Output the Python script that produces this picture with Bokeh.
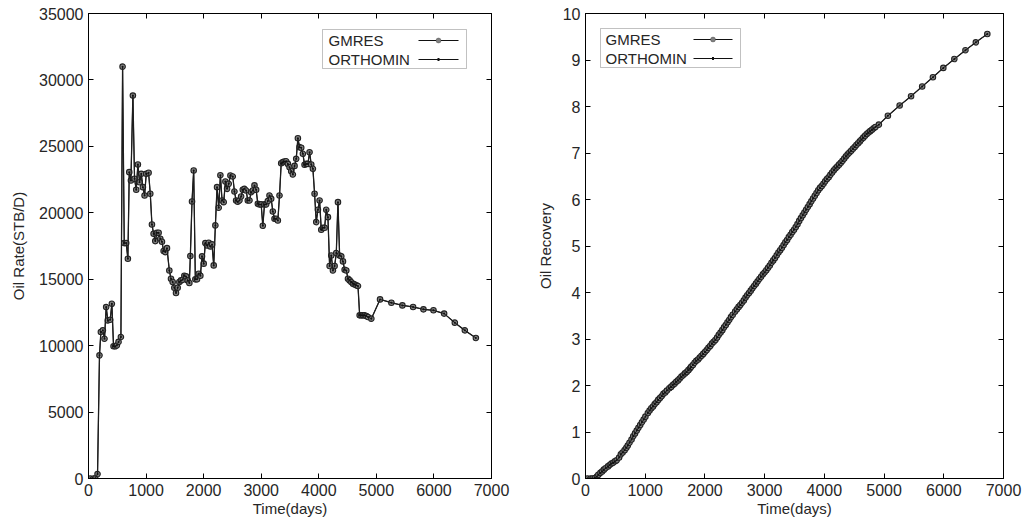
from bokeh.plotting import figure
from bokeh.layouts import row
from bokeh.models import (Range1d, LinearAxis, FixedTicker, BoxAnnotation, Label,
                          CustomJSTickFormatter)
from bokeh.embed import file_html
from bokeh.resources import INLINE

# ---------------- data ----------------
time_days = [
    30, 87, 116, 157, 191, 215, 250, 278, 307, 336,
    377, 406, 435, 464, 493, 522, 563, 592, 621, 655,
    684, 708, 737, 771, 800, 829, 858, 887, 916, 945,
    974, 1003, 1044, 1073, 1102, 1131, 1160, 1189, 1218, 1247,
    1276, 1305, 1334, 1363, 1404, 1433, 1462, 1491, 1520, 1549,
    1578, 1607, 1636, 1665, 1694, 1723, 1752, 1769, 1798, 1827,
    1856, 1885, 1914, 1943, 1972, 2001, 2030, 2059, 2088, 2117,
    2146, 2175, 2204, 2233, 2262, 2291, 2320, 2349, 2378, 2407,
    2436, 2465, 2506, 2535, 2564, 2593, 2622, 2651, 2680, 2709,
    2738, 2767, 2796, 2825, 2854, 2883, 2912, 2941, 2970, 2999,
    3028, 3057, 3086, 3115, 3144, 3173, 3202, 3231, 3260, 3289,
    3318, 3347, 3376, 3405, 3434, 3463, 3492, 3521, 3550, 3579,
    3608, 3637, 3666, 3695, 3724, 3753, 3782, 3811, 3840, 3869,
    3898, 3927, 3956, 3985, 4014, 4043, 4072, 4101, 4130, 4159,
    4188, 4217, 4246, 4275, 4304, 4333, 4362, 4391, 4420, 4449,
    4478, 4507, 4536, 4565, 4594, 4623, 4652, 4681, 4710, 4739,
    4768, 4797, 4826, 4855, 4913, 5064, 5261, 5452, 5638, 5818,
    5992, 6177, 6363, 6537, 6729,
]

oil_rate = [
    0, 0, 0, 330, 9270, 11030, 11150, 10520, 12900, 11900,
    11950, 13150, 9950, 9950, 10020, 10280, 10650, 31000, 17720, 17720,
    16540, 23060, 22430, 28820, 22560, 21730, 23630, 22300, 22930, 21930,
    21300, 22930, 23010, 21430, 19120, 18420, 17870, 18500, 18500, 18050,
    17820, 17120, 17040, 17340, 15660, 15040, 14790, 14360, 13960, 14360,
    14790, 14910, 14960, 15260, 15210, 14910, 14710, 16740, 20850, 23180,
    14990, 14990, 15410, 15260, 16720, 16170, 17720, 17540, 17740, 17470,
    17620, 16040, 19050, 21930, 20380, 22830, 20930, 20800, 22360, 21800,
    22180, 22810, 22730, 21600, 20930, 20830, 20930, 21230, 21730, 21800,
    21680, 20930, 20930, 21550, 21680, 22060, 21730, 20680, 20630, 20630,
    19020, 20630, 20630, 20880, 21300, 21050, 20100, 19550, 19550, 19420,
    21300, 23730, 23810, 23860, 23880, 23680, 23430, 23130, 22880, 23530,
    24060, 25610, 24940, 24890, 24440, 23610, 23680, 23680, 24560, 23630,
    23310, 21430, 19300, 20230, 20930, 18720, 18870, 18870, 20230, 19670,
    15990, 16790, 15660, 15990, 16970, 20800, 16790, 16720, 16340, 15710,
    15660, 15040, 14910, 14790, 14660, 14610, 14540, 14490, 12280, 12280,
    12280, 12280, 12230, 12160, 12030, 13480, 13230, 13030, 12910, 12730,
    12660, 12410, 11730, 11150, 10580,
]

oil_recovery = [
    0.00, 0.00, 0.00, 0.01, 0.04, 0.08, 0.12, 0.15, 0.19, 0.22,
    0.26, 0.29, 0.32, 0.34, 0.37, 0.39, 0.45, 0.52, 0.56, 0.61,
    0.66, 0.71, 0.77, 0.84, 0.91, 0.97, 1.03, 1.09, 1.15, 1.21,
    1.27, 1.33, 1.41, 1.46, 1.51, 1.55, 1.60, 1.64, 1.69, 1.73,
    1.77, 1.82, 1.85, 1.89, 1.94, 1.97, 2.01, 2.04, 2.08, 2.11,
    2.15, 2.19, 2.22, 2.26, 2.29, 2.33, 2.37, 2.40, 2.44, 2.49,
    2.53, 2.56, 2.60, 2.64, 2.68, 2.72, 2.76, 2.81, 2.85, 2.90,
    2.94, 2.98, 3.03, 3.09, 3.14, 3.19, 3.25, 3.30, 3.36, 3.41,
    3.47, 3.52, 3.59, 3.64, 3.69, 3.73, 3.78, 3.83, 3.89, 3.94,
    3.99, 4.04, 4.09, 4.14, 4.19, 4.24, 4.29, 4.34, 4.39, 4.43,
    4.48, 4.53, 4.58, 4.64, 4.69, 4.74, 4.80, 4.86, 4.91, 4.96,
    5.02, 5.08, 5.13, 5.19, 5.24, 5.30, 5.35, 5.41, 5.47, 5.54,
    5.60, 5.66, 5.72, 5.78, 5.84, 5.90, 5.96, 6.02, 6.08, 6.14,
    6.20, 6.25, 6.29, 6.34, 6.39, 6.44, 6.48, 6.53, 6.58, 6.63,
    6.67, 6.71, 6.75, 6.79, 6.83, 6.88, 6.93, 6.97, 7.01, 7.05,
    7.09, 7.13, 7.17, 7.21, 7.25, 7.29, 7.33, 7.37, 7.41, 7.44,
    7.47, 7.50, 7.53, 7.56, 7.61, 7.80, 8.02, 8.22, 8.43, 8.63,
    8.83, 9.02, 9.21, 9.38, 9.56,
]

series_names = ["GMRES", "ORTHOMIN"]
x_ticks = [0, 1000, 2000, 3000, 4000, 5000, 6000, 7000]
rate_ticks = [0, 5000, 10000, 15000, 20000, 25000, 30000, 35000]
recovery_ticks = [0, 1, 2, 3, 4, 5, 6, 7, 8, 9, 10]

FONT = "Liberation Sans"
TXT = "#262626"
LINE = "#1e1e1e"


def style_axis(ax, ticks, show_labels=True):
    ax.ticker = FixedTicker(ticks=ticks)
    ax.axis_line_color = "black"
    ax.axis_line_width = 1
    ax.major_tick_in = 5
    ax.major_tick_out = 0
    ax.major_tick_line_color = "black"
    ax.minor_tick_line_color = None
    ax.major_label_text_font = FONT
    ax.major_label_text_color = TXT
    if show_labels:
        ax.major_label_text_font_size = "16px"
        ax.major_label_standoff = 5
    else:
        ax.formatter = CustomJSTickFormatter(code="return ''")
        ax.major_label_text_font_size = "1px"
        ax.major_label_standoff = 0
    ax.axis_label_text_font = FONT
    ax.axis_label_text_font_size = "15px"
    ax.axis_label_text_font_style = "normal"
    ax.axis_label_text_color = TXT


def make_fig(w, h, yr, yticks, ylabel, b_left, b_right, b_top, b_bottom, ystand):
    p = figure(width=w, height=h, x_range=Range1d(0, 7000), y_range=yr,
               output_backend="svg", toolbar_location=None,
               min_border_left=b_left, min_border_right=b_right,
               min_border_top=b_top, min_border_bottom=b_bottom)
    p.xgrid.visible = False
    p.ygrid.visible = False
    p.outline_line_color = "black"
    p.outline_line_width = 1
    p.background_fill_color = "white"
    p.border_fill_color = "white"
    style_axis(p.xaxis[0], x_ticks)
    style_axis(p.yaxis[0], yticks)
    p.xaxis.axis_label = "Time(days)"
    p.yaxis.axis_label = ylabel
    p.xaxis.axis_label_standoff = 1
    p.yaxis.axis_label_standoff = ystand
    top_ax = LinearAxis()
    style_axis(top_ax, x_ticks, show_labels=False)
    p.add_layout(top_ax, "above")
    right_ax = LinearAxis()
    style_axis(right_ax, yticks, show_labels=False)
    p.add_layout(right_ax, "right")
    return p


def draw_series(p, y):
    p.line(time_days, y, line_color=LINE, line_width=1.3)
    p.scatter(time_days, y, marker="circle", size=5.5, line_color="#222222",
              fill_color="#808080", line_width=1.1)
    p.line(time_days, y, line_color=LINE, line_width=1.0)
    p.scatter(time_days, y, marker="circle", size=2, line_color=None, fill_color="#111111")


def draw_legend(p, box_l, box_r, box_t, box_b, text_x, line_x0, line_x1, y_rows):
    p.add_layout(BoxAnnotation(left=box_l, right=box_r, top=box_t, bottom=box_b,
                               left_units="screen", right_units="screen",
                               top_units="screen", bottom_units="screen",
                               fill_color="white", fill_alpha=1.0,
                               line_color="#333333", line_width=1))
    cx = (line_x0 + line_x1) / 2
    for i, (name, yy) in enumerate(zip(series_names, y_rows)):
        p.add_layout(Label(x=text_x, y=yy, x_units="screen", y_units="screen",
                           text=name, text_font=FONT, text_font_size="15px",
                           text_color=TXT, text_baseline="middle", text_align="left"))
        p.add_layout(BoxAnnotation(left=line_x0, right=line_x1, top=yy + 0.5, bottom=yy - 0.5,
                                   left_units="screen", right_units="screen",
                                   top_units="screen", bottom_units="screen",
                                   fill_color="#111111", fill_alpha=1.0, line_color=None))
        if i == 0:
            p.add_layout(BoxAnnotation(left=cx - 2.5, right=cx + 2.5, top=yy + 2.5, bottom=yy - 2.5,
                                       left_units="screen", right_units="screen",
                                       top_units="screen", bottom_units="screen",
                                       border_radius=3, fill_color="#808080", fill_alpha=1.0,
                                       line_color="#222222", line_width=1))
        else:
            p.add_layout(BoxAnnotation(left=cx - 1, right=cx + 1, top=yy + 1.5, bottom=yy - 1.5,
                                       left_units="screen", right_units="screen",
                                       top_units="screen", bottom_units="screen",
                                       fill_color="#111111", fill_alpha=1.0, line_color=None))


# Left: oil rate
p1 = make_fig(520, 532, Range1d(0, 35000), rate_ticks, "Oil Rate(STB/D)",
              88, 29, 13, 54, 9)
draw_series(p1, oil_rate)
draw_legend(p1, 234, 378, 449, 410, 240, 330, 370, [438, 419])

# Right: oil recovery
p2 = make_fig(514, 532, Range1d(0, 10), recovery_ticks, "Oil Recovery",
              65, 31, 13, 53, 6)
draw_series(p2, oil_recovery)
draw_legend(p2, 15, 155, 450, 411, 20, 108, 147, [439, 420])

layout = row(p1, p2)
open("out.html", "w").write(file_html(layout, INLINE))
